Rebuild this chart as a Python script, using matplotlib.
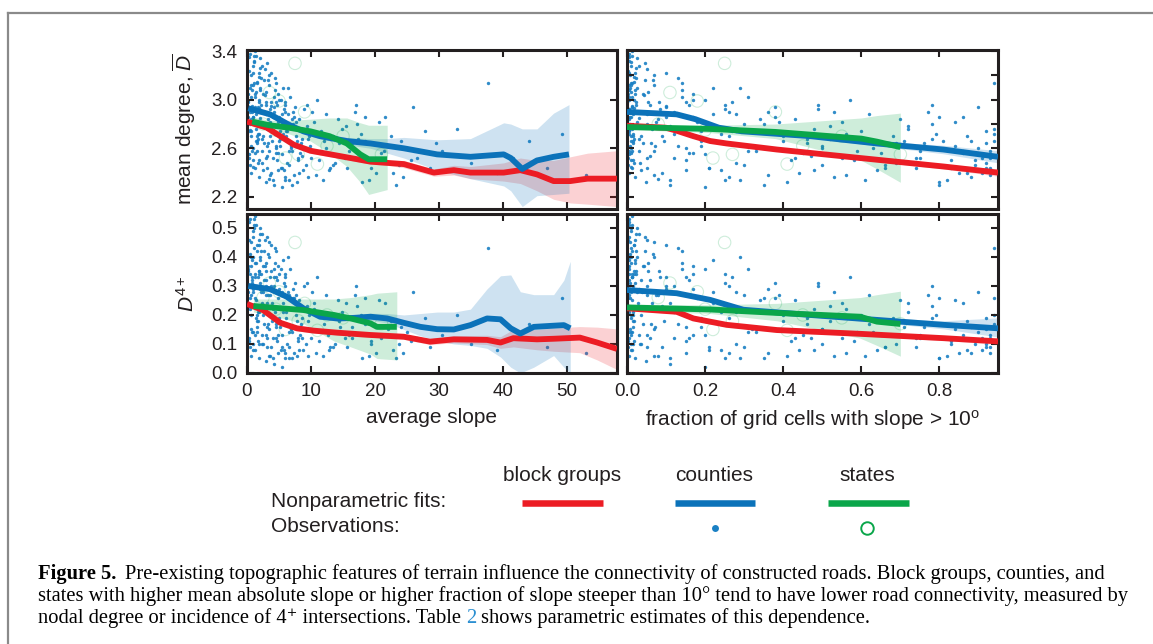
import matplotlib.pyplot as plt
from matplotlib.ticker import FormatStrFormatter, MultipleLocator

W, H = 1153, 644
RED = '#ec1c24'
BLUE = '#0b72b9'
GREEN = '#0aa64a'
DOT = '#1a80c4'
INK = '#231f20'

# observations (block groups / counties), same units in all panels
slope_obs = [
    0.3, 0.5, 0.8, 1.0, 0.4, 1.2, 0.6, 1.4, 0.2, 0.9,
    0.7, 1.6, 0.3, 1.8, 1.1, 0.5, 2.0, 1.3, 0.8, 1.7,
    2.2, 1.0, 2.5, 0.4, 1.9, 2.8, 1.5, 0.6, 2.3, 1.2,
    3.0, 2.6, 1.4, 3.3, 0.9, 2.1, 3.6, 1.8, 2.9, 0.2,
    3.4, 4.0, 3.8, 4.5, 3.1, 4.8, 5.2, 3.7, 4.2, 5.5,
    4.6, 5.8, 3.9, 6.2, 4.3, 5.0, 6.5, 3.5, 5.6, 4.9,
    6.8, 7.2, 5.3, 7.6, 6.0, 8.0, 5.9, 7.0, 8.4, 6.4,
    7.8, 8.8, 6.6, 9.2, 7.4, 8.2, 9.6, 6.1, 8.6, 7.1,
    9.9, 10.5, 11.2, 9.4, 12.0, 10.8, 11.6, 12.6, 10.2, 13.0,
    13.5, 11.9, 14.2, 12.3, 13.8, 14.8, 11.0, 15.3, 12.8, 14.5,
    16.0, 17.2, 15.6, 18.5, 16.8, 19.3, 17.8, 20.2, 16.4, 21.0,
    22.5, 23.8, 21.6, 25.0, 24.4, 26.5, 22.0, 27.8, 23.2, 28.6,
    30.5, 32.8, 35.0, 37.6, 39.0, 41.5, 44.0, 46.8, 49.2, 53.0,
    0.1, 0.6, 1.1, 1.6, 2.1, 2.6, 0.4, 0.9, 1.4, 1.9,
    2.4, 2.9, 3.2, 0.7, 1.2, 1.7, 2.2, 2.7, 3.2, 0.3,
    3.6, 4.1, 4.4, 5.1, 3.3, 4.7, 5.4, 6.0, 3.8, 4.0,
    1.0, 1.5, 2.0, 2.5, 3.0, 3.5, 4.0, 4.5, 5.0, 5.5,
    0.15, 0.35, 0.55, 0.75, 0.95, 1.15, 1.35, 1.55, 1.75, 1.95,
    0.25, 0.45, 0.65, 0.85, 1.05, 1.25, 1.45, 1.65, 1.85, 2.05,
    2.15, 2.35, 2.55, 2.75, 2.95, 3.15, 3.35, 3.55, 3.75, 3.95,
    4.15, 4.35, 4.55, 4.75, 4.95, 5.15, 5.35, 5.55, 5.75, 5.95,
    6.15, 6.35, 6.55, 6.75, 6.95, 7.15, 7.35, 7.55, 7.75, 7.95,
    8.15, 8.35, 8.55, 8.75, 8.95, 9.15, 9.35, 9.55, 9.75, 9.95,
    10.4, 11.4, 12.4, 13.4, 14.4, 15.4, 16.4, 17.4, 18.4, 19.4,
    0.5, 1.0, 1.5, 2.0, 2.5, 3.0, 0.8, 1.3, 1.8, 2.3,
    3.5, 4.2, 4.9, 5.6, 6.3, 7.0, 7.7, 3.1, 4.6, 6.0,
    20.6, 22.8, 24.0, 26.0, 19.0, 21.4, 17.0, 18.0, 25.6, 29.5,
    0.6, 1.2, 1.8, 2.4, 3.0, 3.6, 4.2, 4.8, 5.4, 6.6,
]
frac_obs = [
    0.004, 0.008, 0.012, 0.006, 0.003, 0.020, 0.010, 0.015, 0.005, 0.009,
    0.007, 0.018, 0.004, 0.022, 0.011, 0.006, 0.030, 0.013, 0.008, 0.017,
    0.024, 0.010, 0.040, 0.005, 0.016, 0.050, 0.014, 0.006, 0.028, 0.012,
    0.060, 0.042, 0.013, 0.080, 0.009, 0.021, 0.090, 0.019, 0.052, 0.003,
    0.07, 0.12, 0.10, 0.15, 0.045, 0.18, 0.20, 0.09, 0.14, 0.22,
    0.16, 0.25, 0.11, 0.28, 0.13, 0.19, 0.30, 0.08, 0.24, 0.17,
    0.32, 0.36, 0.21, 0.40, 0.27, 0.43, 0.26, 0.34, 0.46, 0.29,
    0.41, 0.48, 0.31, 0.50, 0.38, 0.44, 0.52, 0.28, 0.47, 0.35,
    0.50, 0.55, 0.58, 0.49, 0.62, 0.56, 0.60, 0.65, 0.53, 0.66,
    0.68, 0.61, 0.70, 0.63, 0.69, 0.72, 0.57, 0.74, 0.64, 0.71,
    0.75, 0.78, 0.74, 0.81, 0.77, 0.83, 0.79, 0.85, 0.76, 0.86,
    0.87, 0.89, 0.86, 0.90, 0.88, 0.91, 0.84, 0.92, 0.80, 0.93,
    0.93, 0.94, 0.92, 0.94, 0.91, 0.93, 0.94, 0.92, 0.94, 0.93,
    0.002, 0.006, 0.011, 0.016, 0.023, 0.035, 0.005, 0.009, 0.014, 0.019,
    0.032, 0.055, 0.065, 0.007, 0.012, 0.017, 0.026, 0.045, 0.072, 0.004,
    0.085, 0.12, 0.14, 0.19, 0.062, 0.16, 0.21, 0.26, 0.10, 0.11,
    0.010, 0.015, 0.025, 0.035, 0.050, 0.070, 0.10, 0.13, 0.17, 0.20,
    0.001, 0.003, 0.002, 0.005, 0.007, 0.004, 0.009, 0.012, 0.014, 0.018,
    0.002, 0.001, 0.004, 0.006, 0.003, 0.008, 0.010, 0.006, 0.015, 0.020,
    0.022, 0.030, 0.036, 0.044, 0.050, 0.058, 0.066, 0.075, 0.082, 0.095,
    0.10, 0.12, 0.14, 0.15, 0.17, 0.19, 0.20, 0.22, 0.24, 0.25,
    0.26, 0.28, 0.30, 0.31, 0.33, 0.35, 0.36, 0.38, 0.40, 0.42,
    0.43, 0.45, 0.46, 0.48, 0.49, 0.50, 0.52, 0.53, 0.54, 0.55,
    0.56, 0.59, 0.62, 0.66, 0.69, 0.72, 0.75, 0.78, 0.80, 0.83,
    0.003, 0.009, 0.016, 0.025, 0.038, 0.055, 0.005, 0.011, 0.020, 0.031,
    0.07, 0.12, 0.17, 0.22, 0.27, 0.33, 0.39, 0.05, 0.15, 0.25,
    0.84, 0.87, 0.88, 0.90, 0.82, 0.86, 0.78, 0.80, 0.89, 0.92,
    0.004, 0.012, 0.021, 0.033, 0.048, 0.068, 0.11, 0.15, 0.20, 0.29,
]
deg_obs = [
    3.35, 3.10, 2.95, 3.22, 2.80, 3.05, 2.70, 2.88, 3.00, 3.28,
    2.62, 3.15, 2.55, 2.98, 3.31, 2.75, 2.85, 3.40, 2.90, 2.68,
    3.18, 2.50, 3.05, 2.92, 2.72, 3.25, 2.58, 3.12, 2.78, 3.02,
    2.96, 2.64, 3.36, 2.84, 2.45, 3.08, 2.70, 2.93, 2.52, 2.86,
    3.12, 2.75, 2.95, 2.60, 3.30, 2.82, 2.68, 2.40, 3.02, 2.88,
    2.56, 2.92, 2.78, 2.48, 3.18, 2.66, 2.80, 2.35, 2.72, 3.05,
    2.62, 2.90, 2.44, 2.70, 2.98, 2.52, 2.36, 2.84, 2.64, 3.10,
    2.32, 2.76, 2.58, 2.46, 2.86, 2.40, 2.68, 2.74, 2.54, 2.30,
    2.62, 2.82, 2.50, 2.96, 2.66, 2.38, 2.74, 2.56, 2.90, 2.44,
    2.70, 2.34, 2.84, 2.60, 2.48, 2.76, 3.00, 2.52, 2.42, 2.66,
    2.58, 2.80, 2.44, 2.66, 2.90, 2.50, 2.72, 2.40, 2.64, 2.56,
    2.70, 2.46, 2.86, 2.60, 2.36, 2.52, 2.62, 2.74, 2.30, 2.44,
    2.58, 2.76, 2.48, 3.14, 2.40, 2.52, 2.66, 2.44, 2.72, 2.38,
    3.05, 2.84, 3.14, 2.66, 3.26, 2.90, 3.38, 2.60, 2.76, 3.00,
    2.58, 2.98, 2.76, 3.20, 2.94, 2.48, 2.82, 3.16, 2.62, 2.74,
    2.92, 2.52, 3.08, 2.74, 2.64, 2.96, 2.44, 2.90, 3.22, 2.34,
    2.86, 2.70, 3.10, 2.42, 2.80, 2.58, 2.86, 2.62, 3.00, 2.55,
    2.98, 3.24, 2.74, 3.08, 2.86, 3.32, 2.66, 3.14, 2.94, 3.19,
    2.52, 2.90, 3.02, 2.58, 3.36, 2.80, 3.06, 2.72, 2.50, 2.90,
    2.96, 3.28, 2.70, 3.04, 2.88, 2.54, 3.16, 2.82, 2.98, 2.66,
    2.94, 2.72, 3.14, 2.50, 2.86, 2.62, 3.00, 2.78, 2.42, 2.96,
    2.70, 2.88, 2.46, 3.02, 2.60, 2.80, 2.38, 2.94, 2.66, 2.50,
    2.84, 2.56, 2.68, 2.42, 2.92, 2.60, 2.78, 2.36, 2.70, 2.52,
    2.72, 2.58, 2.88, 2.46, 2.64, 2.78, 2.52, 2.68, 2.86, 2.44,
    2.46, 3.12, 2.64, 3.34, 2.78, 3.06, 2.92, 2.56, 3.22, 2.68,
    3.20, 2.90, 2.56, 3.10, 2.74, 2.58, 2.82, 2.44, 2.98, 2.34,
    2.82, 2.40, 2.66, 2.94, 2.34, 2.58, 2.96, 2.32, 2.50, 2.64,
    2.40, 2.44, 2.36, 2.48, 2.32, 2.38, 2.30, 2.42, 2.28, 2.34,
]
d4_obs = [
    0.52, 0.41, 0.33, 0.47, 0.26, 0.38, 0.20, 0.30, 0.36, 0.49,
    0.15, 0.44, 0.12, 0.35, 0.50, 0.22, 0.29, 0.54, 0.31, 0.18,
    0.42, 0.10, 0.37, 0.34, 0.21, 0.46, 0.14, 0.40, 0.24, 0.33,
    0.32, 0.17, 0.51, 0.27, 0.08, 0.39, 0.23, 0.35, 0.13, 0.28,
    0.40, 0.22, 0.30, 0.16, 0.47, 0.26, 0.18, 0.09, 0.36, 0.28,
    0.12, 0.31, 0.24, 0.10, 0.43, 0.19, 0.27, 0.06, 0.21, 0.37,
    0.15, 0.29, 0.08, 0.20, 0.33, 0.12, 0.07, 0.25, 0.17, 0.40,
    0.06, 0.22, 0.14, 0.10, 0.26, 0.08, 0.18, 0.21, 0.12, 0.05,
    0.15, 0.24, 0.11, 0.31, 0.17, 0.07, 0.20, 0.13, 0.28, 0.09,
    0.19, 0.06, 0.25, 0.14, 0.10, 0.21, 0.33, 0.12, 0.08, 0.16,
    0.13, 0.23, 0.09, 0.17, 0.27, 0.11, 0.20, 0.07, 0.16, 0.12,
    0.18, 0.10, 0.24, 0.14, 0.07, 0.12, 0.15, 0.19, 0.05, 0.09,
    0.13, 0.20, 0.10, 0.43, 0.08, 0.12, 0.17, 0.09, 0.26, 0.07,
    0.37, 0.27, 0.43, 0.16, 0.48, 0.32, 0.53, 0.14, 0.25, 0.34,
    0.13, 0.35, 0.24, 0.45, 0.34, 0.11, 0.28, 0.42, 0.16, 0.23,
    0.33, 0.12, 0.38, 0.22, 0.17, 0.32, 0.09, 0.30, 0.44, 0.05,
    0.28, 0.20, 0.40, 0.10, 0.27, 0.15, 0.29, 0.17, 0.34, 0.13,
    0.35, 0.46, 0.23, 0.39, 0.29, 0.51, 0.19, 0.42, 0.33, 0.44,
    0.11, 0.30, 0.37, 0.14, 0.53, 0.26, 0.38, 0.21, 0.10, 0.31,
    0.34, 0.48, 0.20, 0.37, 0.30, 0.12, 0.41, 0.27, 0.35, 0.18,
    0.33, 0.21, 0.42, 0.11, 0.29, 0.16, 0.36, 0.24, 0.08, 0.34,
    0.19, 0.28, 0.09, 0.36, 0.15, 0.26, 0.07, 0.31, 0.18, 0.11,
    0.25, 0.13, 0.19, 0.08, 0.30, 0.15, 0.23, 0.06, 0.20, 0.12,
    0.22, 0.14, 0.27, 0.09, 0.18, 0.24, 0.12, 0.19, 0.26, 0.10,
    0.09, 0.40, 0.18, 0.50, 0.28, 0.38, 0.32, 0.13, 0.46, 0.22,
    0.45, 0.30, 0.13, 0.39, 0.22, 0.14, 0.27, 0.09, 0.33, 0.05,
    0.25, 0.08, 0.16, 0.28, 0.06, 0.13, 0.30, 0.05, 0.11, 0.15,
    0.06, 0.08, 0.05, 0.10, 0.04, 0.06, 0.03, 0.07, 0.02, 0.05,
]

# state observations (open circles)
state_slope = [7.5, 3.5, 6.0, 9.0, 5.0, 11.0, 8.0, 12.5, 2.5, 15.0, 21.0, 4.5]
state_frac = [0.25, 0.11, 0.22, 0.38, 0.18, 0.41, 0.27, 0.45, 0.08, 0.55, 0.70, 0.20]
state_deg = [3.30, 3.06, 2.52, 2.90, 2.99, 2.47, 2.55, 2.62, 2.80, 2.70, 2.55, 2.75]
state_d4 = [0.45, 0.31, 0.15, 0.24, 0.28, 0.147, 0.18, 0.20, 0.26, 0.19, 0.17, 0.22]

# nonparametric fits: mean degree vs average slope
tl_red_x = [0, 3.1, 5.2, 7.3, 9.9, 14.1, 19.3, 21.9, 24.5, 29.2, 32.3, 34.9, 40.1, 42.7, 45.3, 47.9, 50.5, 53.2, 57.8]
tl_red_y = [2.82, 2.77, 2.70, 2.63, 2.58, 2.54, 2.49, 2.48, 2.47, 2.40, 2.42, 2.40, 2.40, 2.42, 2.385, 2.33, 2.33, 2.35, 2.35]
tl_red_lo = [2.80, 2.75, 2.68, 2.61, 2.56, 2.52, 2.47, 2.46, 2.44, 2.37, 2.38, 2.35, 2.33, 2.31, 2.25, 2.18, 2.15, 2.14, 2.12]
tl_red_hi = [2.84, 2.79, 2.72, 2.65, 2.60, 2.56, 2.51, 2.50, 2.50, 2.43, 2.46, 2.45, 2.48, 2.52, 2.50, 2.50, 2.53, 2.56, 2.58]
tl_blue_x = [0.2, 3.6, 6.7, 8.8, 11.4, 15.6, 19.3, 21.9, 24.5, 29.7, 34.9, 40.1, 41.2, 43.0, 45.3, 47.9, 50.3]
tl_blue_y = [2.93, 2.88, 2.79, 2.74, 2.70, 2.66, 2.64, 2.62, 2.60, 2.55, 2.53, 2.55, 2.52, 2.43, 2.50, 2.53, 2.55]
tl_blue_lo = [2.91, 2.86, 2.77, 2.72, 2.68, 2.63, 2.60, 2.56, 2.52, 2.42, 2.35, 2.29, 2.25, 2.12, 2.21, 2.22, 2.23]
tl_blue_hi = [2.95, 2.90, 2.81, 2.76, 2.72, 2.69, 2.68, 2.68, 2.69, 2.67, 2.68, 2.81, 2.80, 2.76, 2.76, 2.89, 2.96]
tl_green_x = [0.8, 3.5, 6.5, 9.9, 12.9, 15.6, 17.7, 19.0, 21.9]
tl_green_y = [2.82, 2.79, 2.77, 2.74, 2.70, 2.64, 2.55, 2.51, 2.51]
tl_green_lo = [2.78, 2.75, 2.72, 2.66, 2.56, 2.45, 2.32, 2.22, 2.26]
tl_green_hi = [2.86, 2.83, 2.83, 2.84, 2.85, 2.85, 2.81, 2.79, 2.79]

# D4+ vs average slope
bl_red_x = [0, 2.5, 5.2, 7.8, 10.4, 14.1, 19.3, 24.5, 28.6, 32.3, 37.5, 39.6, 41.6, 45.3, 47.9, 52.0, 54.7, 57.8]
bl_red_y = [0.238, 0.217, 0.173, 0.154, 0.146, 0.139, 0.131, 0.125, 0.108, 0.116, 0.114, 0.105, 0.120, 0.116, 0.118, 0.122, 0.105, 0.083]
bl_red_lo = [0.228, 0.207, 0.163, 0.145, 0.138, 0.131, 0.123, 0.116, 0.098, 0.104, 0.098, 0.085, 0.090, 0.080, 0.075, 0.070, 0.045, 0.012]
bl_red_hi = [0.248, 0.227, 0.183, 0.163, 0.154, 0.147, 0.139, 0.134, 0.118, 0.128, 0.130, 0.125, 0.150, 0.150, 0.155, 0.160, 0.158, 0.152]
bl_blue_x = [0.2, 3.6, 6.2, 8.8, 11.4, 14.1, 16.7, 19.3, 21.9, 24.5, 27.1, 29.7, 32.3, 34.9, 37.5, 39.6, 41.2, 42.7, 44.8, 47.9, 49.5, 50.5]
bl_blue_y = [0.300, 0.289, 0.263, 0.223, 0.194, 0.188, 0.190, 0.194, 0.188, 0.173, 0.159, 0.151, 0.150, 0.165, 0.188, 0.185, 0.154, 0.136, 0.159, 0.163, 0.165, 0.154]
bl_blue_lo = [0.292, 0.281, 0.255, 0.215, 0.186, 0.179, 0.180, 0.182, 0.172, 0.150, 0.128, 0.112, 0.100, 0.095, 0.085, 0.055, 0.020, 0.000, 0.020, 0.060, 0.020, 0.000]
bl_blue_hi = [0.308, 0.297, 0.271, 0.231, 0.202, 0.197, 0.200, 0.206, 0.205, 0.200, 0.205, 0.210, 0.210, 0.220, 0.290, 0.335, 0.338, 0.280, 0.270, 0.270, 0.320, 0.385]
bl_green_x = [1.0, 3.6, 8.8, 13.6, 16.2, 19.3, 20.3, 23.4]
bl_green_y = [0.231, 0.226, 0.217, 0.200, 0.188, 0.171, 0.159, 0.159]
bl_green_lo = [0.210, 0.200, 0.170, 0.110, 0.090, 0.065, 0.050, 0.045]
bl_green_hi = [0.255, 0.255, 0.255, 0.255, 0.260, 0.270, 0.275, 0.280]

# mean degree vs fraction of steep cells
tr_red_x = [0.0, 0.099, 0.127, 0.17, 0.213, 0.255, 0.384, 0.597, 0.811, 0.95]
tr_red_y = [2.786, 2.77, 2.745, 2.70, 2.66, 2.64, 2.59, 2.52, 2.45, 2.40]
tr_red_lo = [2.771, 2.755, 2.730, 2.685, 2.645, 2.625, 2.575, 2.505, 2.430, 2.370]
tr_red_hi = [2.801, 2.785, 2.760, 2.715, 2.675, 2.655, 2.605, 2.535, 2.470, 2.430]
tr_blue_x = [0.0, 0.127, 0.175, 0.235, 0.294, 0.47, 0.64, 0.81, 0.95]
tr_blue_y = [2.90, 2.88, 2.84, 2.77, 2.74, 2.70, 2.64, 2.59, 2.53]
tr_blue_lo = [2.88, 2.865, 2.825, 2.755, 2.725, 2.685, 2.62, 2.555, 2.48]
tr_blue_hi = [2.92, 2.895, 2.855, 2.785, 2.755, 2.715, 2.66, 2.625, 2.58]
tr_green_x = [0.0, 0.21, 0.38, 0.60, 0.64, 0.70]
tr_green_y = [2.775, 2.76, 2.735, 2.68, 2.655, 2.61]
tr_green_lo = [2.755, 2.73, 2.68, 2.50, 2.43, 2.32]
tr_green_hi = [2.795, 2.79, 2.80, 2.85, 2.87, 2.89]

# D4+ vs fraction of steep cells
br_red_x = [0.0, 0.127, 0.17, 0.255, 0.384, 0.597, 0.811, 0.95]
br_red_y = [0.223, 0.211, 0.188, 0.166, 0.148, 0.135, 0.120, 0.109]
br_red_lo = [0.216, 0.204, 0.181, 0.159, 0.141, 0.128, 0.112, 0.099]
br_red_hi = [0.230, 0.218, 0.195, 0.173, 0.155, 0.142, 0.128, 0.119]
br_blue_x = [0.0, 0.127, 0.213, 0.298, 0.469, 0.64, 0.811, 0.95]
br_blue_y = [0.286, 0.275, 0.252, 0.218, 0.200, 0.183, 0.166, 0.154]
br_blue_lo = [0.278, 0.268, 0.245, 0.211, 0.193, 0.175, 0.152, 0.124]
br_blue_hi = [0.294, 0.282, 0.259, 0.225, 0.207, 0.191, 0.180, 0.190]
br_green_x = [0.0, 0.213, 0.384, 0.597, 0.64, 0.70]
br_green_y = [0.226, 0.219, 0.207, 0.194, 0.177, 0.169]
br_green_lo = [0.215, 0.205, 0.180, 0.120, 0.095, 0.058]
br_green_hi = [0.237, 0.235, 0.240, 0.260, 0.270, 0.282]

legend_cols = ['block groups', 'counties', 'states']
caption_1 = ('Pre-existing topographic features of terrain influence the connectivity '
             'of constructed roads. Block groups, counties, and')
caption_2 = ('states with higher mean absolute slope or higher fraction of slope steeper '
             'than 10° tend to have lower road connectivity, measured by')
caption_3a = 'nodal degree or incidence of 4\u207a intersections. Table'
caption_3b = 'shows parametric estimates of this dependence.'

plt.rcParams['font.family'] = ['Liberation Sans', 'DejaVu Sans']
plt.rcParams['mathtext.fontset'] = 'custom'
plt.rcParams['mathtext.rm'] = 'Liberation Sans'
plt.rcParams['mathtext.it'] = 'Liberation Sans:italic'
plt.rcParams['mathtext.sf'] = 'Liberation Sans'
plt.rcParams['mathtext.bf'] = 'Liberation Sans:bold'


def px_rect(x0, y0, x1, y1):
    return [x0 / W, 1 - y1 / H, (x1 - x0) / W, (y1 - y0) / H]


def fit(ax, x, y, lo, hi, color, z):
    ax.fill_between(x, lo, hi, color=color, alpha=0.2, linewidth=0, zorder=2)
    ax.plot(x, y, color=color, lw=4.2, solid_capstyle='butt', zorder=z)


fig = plt.figure(figsize=(W / 100, H / 100), dpi=100)

# overlay in pixel coordinates for frame, legend and caption
ov = fig.add_axes([0, 0, 1, 1])
ov.set_xlim(0, W)
ov.set_ylim(H, 0)
ov.axis('off')
ov.plot([8, W], [13, 13], color='#8a8a8a', lw=1.6, clip_on=False)
ov.plot([8, 8], [13, H], color='#8a8a8a', lw=1.6, clip_on=False)

ax_tl = fig.add_axes(px_rect(247, 50, 617, 209))
ax_bl = fig.add_axes(px_rect(247, 214, 617, 373))
ax_tr = fig.add_axes(px_rect(627, 50, 998, 209))
ax_br = fig.add_axes(px_rect(627, 214, 998, 373))

panels = [
    (ax_tl, slope_obs, deg_obs, state_slope, state_deg,
     [(tl_red_x, tl_red_y, tl_red_lo, tl_red_hi), (tl_blue_x, tl_blue_y, tl_blue_lo, tl_blue_hi),
      (tl_green_x, tl_green_y, tl_green_lo, tl_green_hi)]),
    (ax_bl, slope_obs, d4_obs, state_slope, state_d4,
     [(bl_red_x, bl_red_y, bl_red_lo, bl_red_hi), (bl_blue_x, bl_blue_y, bl_blue_lo, bl_blue_hi),
      (bl_green_x, bl_green_y, bl_green_lo, bl_green_hi)]),
    (ax_tr, frac_obs, deg_obs, state_frac, state_deg,
     [(tr_red_x, tr_red_y, tr_red_lo, tr_red_hi), (tr_blue_x, tr_blue_y, tr_blue_lo, tr_blue_hi),
      (tr_green_x, tr_green_y, tr_green_lo, tr_green_hi)]),
    (ax_br, frac_obs, d4_obs, state_frac, state_d4,
     [(br_red_x, br_red_y, br_red_lo, br_red_hi), (br_blue_x, br_blue_y, br_blue_lo, br_blue_hi),
      (br_green_x, br_green_y, br_green_lo, br_green_hi)]),
]

for ax, ox, oy, sx, sy, fits in panels:
    ax.scatter(ox, oy, s=6, color=DOT, linewidths=0, alpha=0.9, zorder=1)
    ax.scatter(sx, sy, s=80, facecolors='none', edgecolors=GREEN, linewidths=0.8, alpha=0.2, zorder=1.5)
    for (fx, fy, flo, fhi), col, z in zip(fits, [RED, BLUE, GREEN], [3, 4, 5]):
        fit(ax, fx, fy, flo, fhi, col, z)
    for sp in ax.spines.values():
        sp.set_linewidth(2.2)
        sp.set_color(INK)
    ax.tick_params(direction='in', top=True, right=True, length=5, width=1.5,
                   color=INK, labelcolor=INK, labelsize=13.5, pad=7)

for ax in (ax_tl, ax_bl):
    ax.set_xlim(0, 57.8)
    ax.xaxis.set_major_locator(MultipleLocator(10))
for ax in (ax_tr, ax_br):
    ax.set_xlim(0, 0.95)
    ax.xaxis.set_major_locator(MultipleLocator(0.2))
    ax.xaxis.set_major_formatter(FormatStrFormatter('%.1f'))
    ax.tick_params(labelleft=False)
for ax in (ax_tl, ax_tr):
    ax.set_ylim(2.1, 3.41)
    ax.tick_params(labelbottom=False)
ax_tl.set_yticks([2.2, 2.6, 3.0, 3.4])
ax_tr.set_yticks([2.2, 2.4, 2.6, 2.8, 3.0, 3.2, 3.4])
ax_tl.yaxis.set_major_formatter(FormatStrFormatter('%.1f'))
for ax in (ax_bl, ax_br):
    ax.set_ylim(0, 0.548)
    ax.yaxis.set_major_locator(MultipleLocator(0.1))
    ax.yaxis.set_major_formatter(FormatStrFormatter('%.1f'))

ax_tl.set_ylabel('mean degree, $\\overline{D}$', fontsize=15, color=INK)
ax_bl.set_ylabel('$D^{\\mathsf{4+}}$', fontsize=15, color=INK)
for ax in (ax_tl, ax_bl):
    ax.yaxis.set_label_coords(-0.132, 0.5)
ax_bl.set_xlabel('average slope', fontsize=15, color=INK, labelpad=6)
ax_br.set_xlabel('fraction of grid cells with slope > 10$^{\\mathsf{o}}$', fontsize=15, color=INK, labelpad=6)

# legend table
for label, cx in zip(legend_cols, [562, 714, 867]):
    ov.text(cx, 475, label, ha='center', va='center', fontsize=15, color=INK)
ov.text(271, 501, 'Nonparametric fits:', ha='left', va='center', fontsize=15, color=INK)
ov.text(271, 527, 'Observations:', ha='left', va='center', fontsize=15, color=INK)
for (x0, x1), col in zip([(522, 603), (675, 755), (828, 909)], [RED, BLUE, GREEN]):
    ov.plot([x0, x1], [503, 503], color=col, lw=4.7, solid_capstyle='butt')
ov.plot([715], [528], 'o', color=DOT, ms=5, mew=0)
ov.plot([867], [528], 'o', mfc='none', mec=GREEN, ms=9, mew=1.4)

# caption
cap = dict(fontsize=14.8, family=['Liberation Serif', 'DejaVu Serif'], color='black', va='baseline')
renderer = fig.canvas.get_renderer()
t0 = ov.text(38, 579, 'Figure 5.', fontweight='bold', **cap)
x_after = t0.get_window_extent(renderer).x1
ov.text(x_after + 9, 579, caption_1, **cap)
ov.text(38, 601, caption_2, **cap)
t3 = ov.text(38, 623, caption_3a, **cap)
x3 = t3.get_window_extent(renderer).x1
t4 = ov.text(x3 + 5, 623, '2', **{**cap, 'color': '#2b8fd1'})
x4 = t4.get_window_extent(renderer).x1
ov.text(x4 + 5, 623, caption_3b, **cap)

fig.savefig('out.png', dpi=100)
